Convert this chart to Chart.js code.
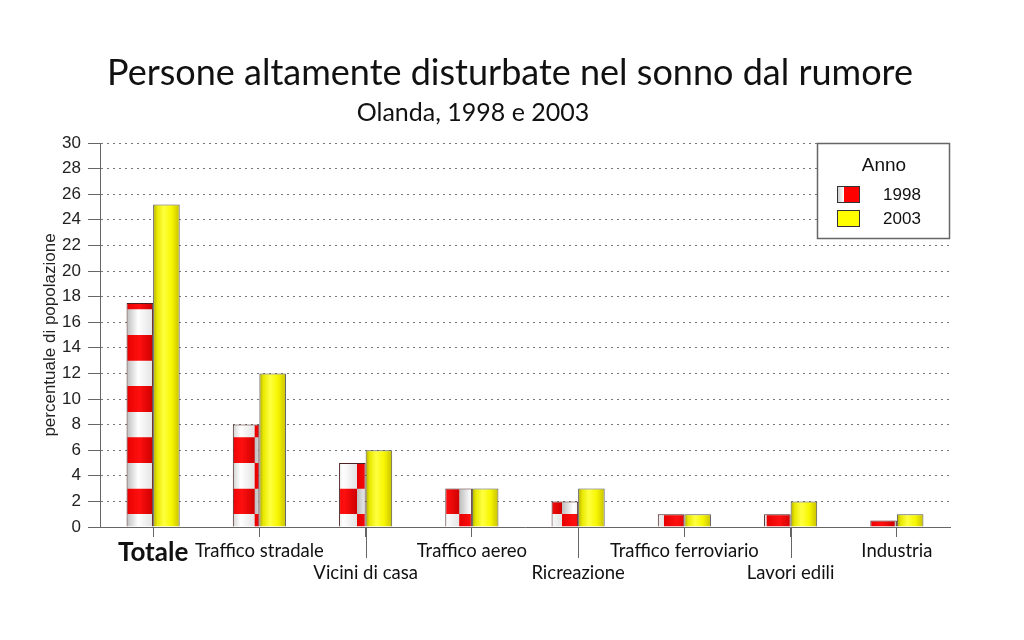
<!DOCTYPE html>
<html>
<head>
<meta charset="utf-8">
<title>Persone altamente disturbate nel sonno dal rumore</title>
<script src="https://cdn.jsdelivr.net/npm/chart.js@4.4.1/dist/chart.umd.min.js"></script>
<style>
  html, body { margin: 0; padding: 0; background: #fff; }
  #wrap { width: 1024px; height: 640px; }
</style>
</head>
<body>
<div id="wrap"><canvas id="chart"></canvas></div>
<script>
// Data
var categories = ['Totale', 'Traffico stradale', 'Vicini di casa', 'Traffico aereo',
                  'Ricreazione', 'Traffico ferroviario', 'Lavori edili', 'Industria'];
var values1998 = [17.5, 8, 5, 3, 2, 1, 1, 0.5];
var values2003 = [25.2, 12, 6, 3, 3, 1, 2, 1];
var years = ['1998', '2003'];
var yMin = 0, yMax = 30, yStep = 2;

var titleText = 'Persone altamente disturbate nel sonno dal rumore';
var subtitleText = 'Olanda, 1998 e 2003';
var yTitle = 'percentuale di popolazione';
var legendTitle = 'Anno';

// labels on even positions (not the first) drop to a second line
var xLabels = categories.map(function(c, i) {
    return (i > 0 && i % 2 === 0) ? ['', c] : c;
});

// width of one bar in px (category 50%, two bars)
function barWidth(scale) {
    return scale.width / categories.length * 0.25;
}

// red / white checker for 1998, fixed to the plot like in the original
function checkerFill(ctx) {
    var chart = ctx.chart;
    var xs = chart.scales.x, ys = chart.scales.y;
    if (!xs || !ys || !chart.chartArea) return '#ff0000';
    var cell = Math.abs(ys.getPixelForValue(0) - ys.getPixelForValue(2));
    var x0 = xs.getPixelForValue(0) - barWidth(xs);
    var y0 = ys.getPixelForValue(3);
    var n = 64;
    var tile = document.createElement('canvas');
    tile.width = tile.height = n * 2;
    var t = tile.getContext('2d');
    function cellAt(cx, cy, red) {
        var g = t.createLinearGradient(cx, 0, cx + n, 0);
        if (red) {
            g.addColorStop(0, '#e80000');
            g.addColorStop(0.5, '#ff1010');
            g.addColorStop(1, '#d00000');
        } else {
            g.addColorStop(0, '#bdbdbd');
            g.addColorStop(0.45, '#ffffff');
            g.addColorStop(1, '#e4e4e4');
        }
        t.fillStyle = g;
        t.fillRect(cx, cy, n, n);
    }
    cellAt(0, 0, true);
    cellAt(n, 0, false);
    cellAt(0, n, false);
    cellAt(n, n, true);
    var pat = chart.ctx.createPattern(tile, 'repeat');
    pat.setTransform(new DOMMatrix().translate(x0, y0).scale(cell / n));
    return pat;
}

// shaded yellow for 2003
function yellowFill(ctx) {
    var chart = ctx.chart, xs = chart.scales.x;
    if (!xs || !chart.chartArea || ctx.type !== 'data') return '#ffff00';
    var left = xs.getPixelForValue(ctx.dataIndex);
    var g = chart.ctx.createLinearGradient(left, 0, left + barWidth(xs), 0);
    g.addColorStop(0, '#b0a800');
    g.addColorStop(0.15, '#e8e800');
    g.addColorStop(0.4, '#ffff40');
    g.addColorStop(0.7, '#f6f600');
    g.addColorStop(1, '#c8c000');
    return g;
}

// titles, long label ticks and the boxed legend
var decor = {
    id: 'decor',
    afterDraw: function(chart) {
        var c = chart.ctx, xs = chart.scales.x, area = chart.chartArea;
        c.save();
        c.fillStyle = '#111';
        c.textAlign = 'center';
        c.textBaseline = 'middle';
        c.font = '36px Lato';
        c.fillText(titleText, 510, 73);
        c.font = '25px Lato';
        c.fillText(subtitleText, 473, 113);

        c.strokeStyle = '#666';
        c.lineWidth = 1;
        c.beginPath();
        categories.forEach(function(cat, i) {
            if (i > 0 && i % 2 === 0) {
                var px = Math.round(xs.getPixelForTick(i)) + 0.5;
                c.moveTo(px, area.bottom);
                c.lineTo(px, area.bottom + 31);
            }
        });
        c.stroke();

        // legend
        var lw = 133, lh = 96;
        var lx = area.right - lw, ly = area.top;
        c.fillStyle = '#fff';
        c.fillRect(lx, ly, lw, lh);
        c.strokeStyle = '#666';
        c.lineWidth = 1.5;
        c.strokeRect(lx + 0.5, ly + 0.5, lw - 1, lh - 1);
        c.fillStyle = '#111';
        c.font = '19px "Liberation Sans"';
        c.fillText(legendTitle, lx + 67, ly + 23);

        var sx = lx + 20, sw = 23, sh = 17;
        years.forEach(function(yr, i) {
            var sy = ly + 43 + i * 24;
            if (i === 0) {
                var g = c.createLinearGradient(sx, 0, sx + 7, 0);
                g.addColorStop(0, '#c8c8c8');
                g.addColorStop(1, '#ffffff');
                c.fillStyle = g;
                c.fillRect(sx, sy, 7, sh);
                c.fillStyle = '#ff0000';
                c.fillRect(sx + 7, sy, sw - 7, sh);
            } else {
                c.fillStyle = '#ffff00';
                c.fillRect(sx, sy, sw, sh);
            }
            c.strokeStyle = '#333';
            c.lineWidth = 1;
            c.strokeRect(sx + 0.5, sy + 0.5, sw - 1, sh - 1);
            c.fillStyle = '#111';
            c.font = '17px "Liberation Sans"';
            c.fillText(yr, lx + 85, sy + sh / 2 + 1);
        });
        c.restore();
    }
};

var chart = new Chart(document.getElementById('chart'), {
    type: 'bar',
    data: {
        labels: xLabels,
        datasets: [{
            label: years[0],
            data: values1998,
            backgroundColor: checkerFill,
            borderColor: '#4a2020',
            borderWidth: 1
        }, {
            label: years[1],
            data: values2003,
            backgroundColor: yellowFill,
            borderColor: '#555',
            borderWidth: 1
        }]
    },
    options: {
        responsive: true,
        maintainAspectRatio: false,
        animation: false,
        categoryPercentage: 0.5,
        barPercentage: 1.0,
        layout: { padding: { left: 0, right: 74, top: 143, bottom: 0 } },
        plugins: {
            legend: { display: false },
            tooltip: { enabled: false },
            title: { display: false }
        },
        scales: {
            x: {
                grid: {
                    display: true,
                    drawOnChartArea: false,
                    drawTicks: true,
                    tickLength: 10,
                    color: '#666',
                    offset: false
                },
                border: { color: '#666' },
                ticks: {
                    autoSkip: false,
                    maxRotation: 0,
                    minRotation: 0,
                    padding: 3,
                    color: '#111',
                    font: function(c) {
                        return c.index === 0
                            ? { family: 'Lato', size: 26, weight: 'bold', lineHeight: 1.0 }
                            : { family: 'Lato', size: 18.5, weight: 'normal', lineHeight: 1.19 };
                    }
                },
                afterFit: function(s) { s.height = 113; }
            },
            y: {
                min: yMin,
                max: yMax,
                ticks: {
                    stepSize: yStep,
                    padding: 7,
                    color: '#222',
                    font: { family: 'Liberation Sans', size: 17 }
                },
                grid: {
                    color: '#777',
                    tickColor: '#666',
                    tickLength: 12,
                    tickBorderDash: []
                },
                border: { color: '#666', dash: [2, 4] },
                title: {
                    display: true,
                    text: yTitle,
                    color: '#222',
                    font: { family: 'Liberation Sans', size: 17 },
                    padding: { top: 40, bottom: 0 }
                },
                afterFit: function(s) { s.width = 100; }
            }
        }
    },
    plugins: [decor]
});
</script>
</body>
</html>
